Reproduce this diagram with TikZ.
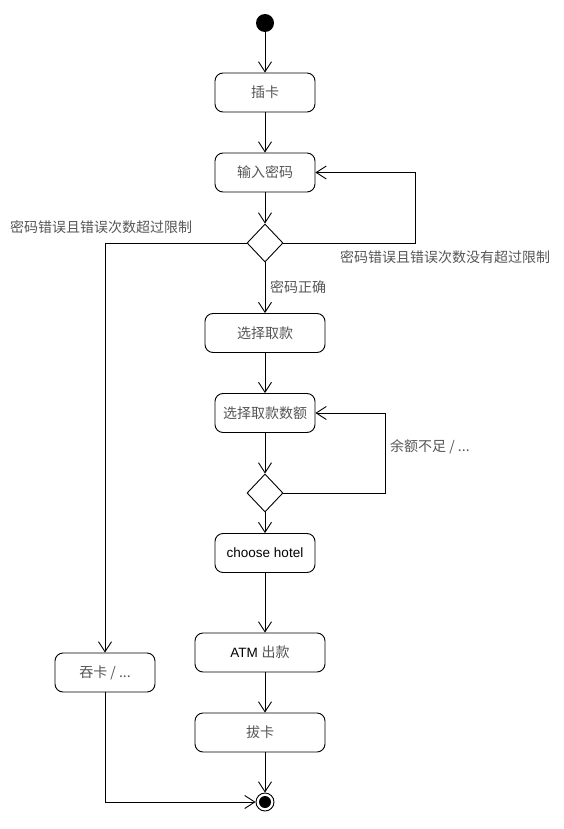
\documentclass[tikz,border=0pt]{standalone}
\usepackage{fontspec}
\setmainfont{Liberation Sans}
\newfontfamily\cjk{Noto Sans CJK SC}
\usetikzlibrary{arrows.meta,shapes.geometric}
\definecolor{cjkgray}{HTML}{555555}
\newcommand{\zh}[1]{{\cjk\color{cjkgray}\fontsize{14}{16}\selectfont#1}}
\tikzset{
  act/.style={draw, rounded corners=8pt, line width=0.9pt, minimum width=100pt, minimum height=39pt, inner sep=0pt, font=\fontsize{13.5}{16}\selectfont},
  dec/.style={draw, diamond, line width=0.9pt, minimum width=36pt, minimum height=38pt, inner sep=0pt},
  flow/.style={-{Straight Barb[length=10pt,width=13pt,line width=0.9pt]}, line width=0.9pt},
  lbl/.style={anchor=west, inner sep=0pt, font=\fontsize{13.5}{16}\selectfont}
}
\begin{document}
\begin{tikzpicture}[x=1pt,y=-1pt]
\useasboundingbox (0,0) rectangle (564,829);
\node[circle, fill=black, minimum size=18pt, inner sep=0pt] (start) at (265,23) {};
\node[act] (n1) at (265,92.5) {\zh{插卡}};
\node[act] (n2) at (265,172.5) {\zh{输入密码}};
\node[dec] (d1) at (265,243) {};
\node[act, minimum width=120pt] (n3) at (265,333) {\zh{选择取款}};
\node[act] (n4) at (265,413) {\zh{选择取款数额}};
\node[dec] (d2) at (265,493) {};
\node[act] (n5) at (265,553) {choose hotel};
\node[act, minimum width=130pt] (n6) at (260,652.5) {ATM \zh{出款}};
\node[act, minimum width=130pt] (n7) at (260,732.5) {\zh{拔卡}};
\node[act] (n8) at (105,672.5) {\zh{吞卡 / ...}};
\node[circle, draw, line width=0.9pt, minimum size=18pt, inner sep=0pt] (end) at (265,802) {};
\fill (end.center) circle (6pt);
\coordinate (r1) at (415,243);
\coordinate (r2) at (385,493);
\node[lbl] (l1) at (10,227) {\zh{密码错误且错误次数超过限制}};
\node[lbl] (l2) at (340,257) {\zh{密码错误且错误次数没有超过限制}};
\node[lbl] (l3) at (270,287) {\zh{密码正确}};
\node[lbl] (l4) at (390,447) {\zh{余额不足 / ...}};
\draw[flow] (start) -- (n1);
\draw[flow] (n1) -- (n2);
\draw[flow] (n2) -- (d1);
\draw[flow] (d1) -- (n3);
\draw[flow] (n3) -- (n4);
\draw[flow] (n4) -- (d2);
\draw[flow] (d2) -- (n5);
\draw[flow] (n5.south) -- (n5.south |- n6.north);
\draw[flow] (n5.south |- n6.south) -- (n5.south |- n7.north);
\draw[flow] (n5.south |- n7.south) -- (end);
\draw[flow] (d1.west) -| (n8.north);
\draw[flow] (n8.south) |- (end.west);
\draw[flow] (d1.east) -- (r1) |- (n2.east);
\draw[flow] (d2.east) -- (r2) |- (n4.east);
\end{tikzpicture}
\end{document}
